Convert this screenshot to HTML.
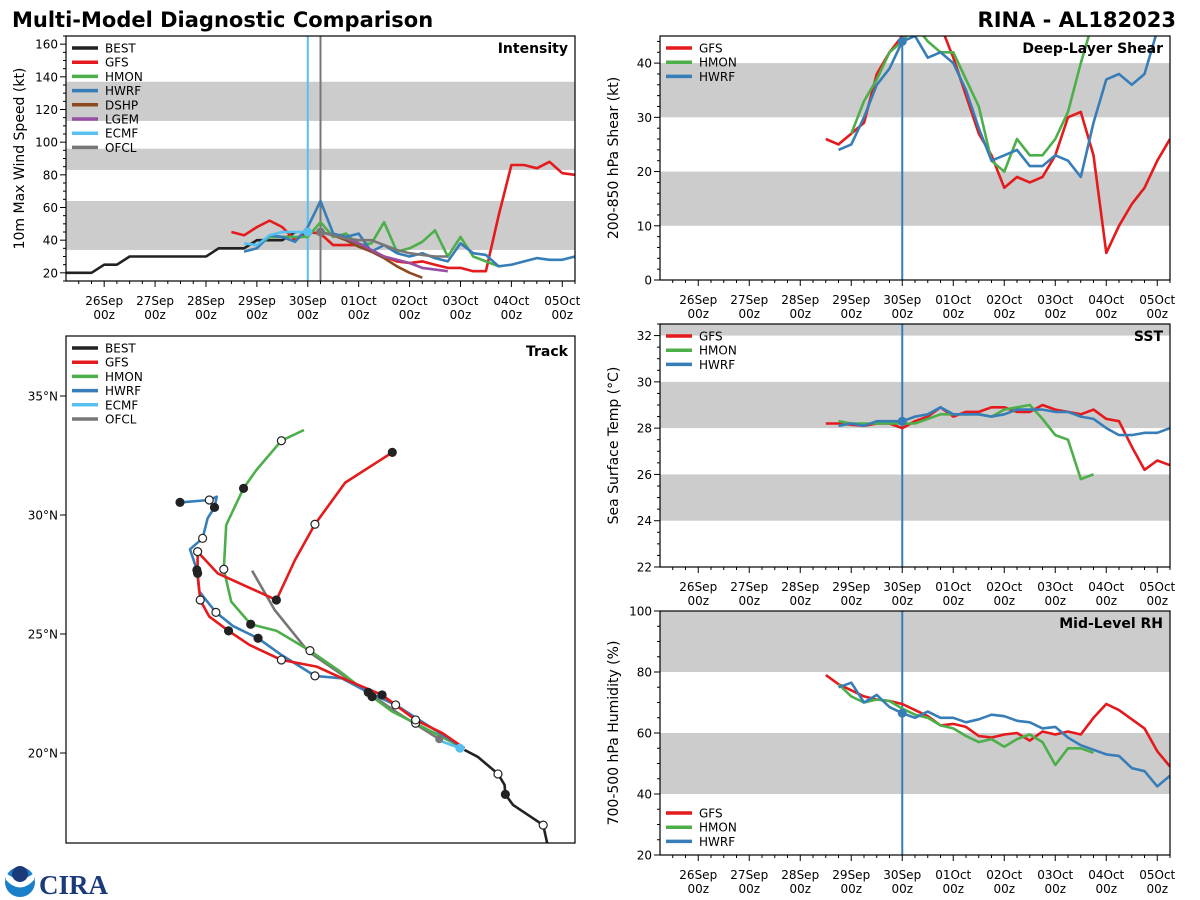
<!DOCTYPE html>
<html><head><meta charset="utf-8">
<style>
html,body{margin:0;padding:0;background:#fff;}
svg{display:block;font-family:"DejaVu Sans","Liberation Sans",sans-serif;}
</style></head>
<body>
<svg id="chart" width="1200" height="900" viewBox="0 0 1200 900" xmlns="http://www.w3.org/2000/svg">
<text x="12" y="27" font-size="21" font-weight="bold" fill="#000">Multi-Model Diagnostic Comparison</text>
<text x="1176" y="27" font-size="21" font-weight="bold" fill="#000" text-anchor="end">RINA - AL182023</text>
<g>
<circle cx="20" cy="882" r="15" fill="#1a7fc9"/>
<path d="M6,880 Q20,895 34,880 L34,873 Q20,885 6,873 Z" fill="#fff"/>
<circle cx="20" cy="874" r="8" fill="#1b3a7a"/>
<text x="39" y="894" font-size="27" font-weight="bold" fill="#1b3a7a" font-family="Liberation Serif, serif">CIRA</text>
</g>
</svg>
<script>
// ---------- data ----------
const xTickLabels = ["26Sep","27Sep","28Sep","29Sep","30Sep","01Oct","02Oct","03Oct","04Oct","05Oct"];
// times in days since 26Sep 00z; values at 6-hour steps starting at *Start
const bestIntStart = -0.75;
const bestIntVals = [20,20,20,25,25,30,30,30,30,30,30,30,35,35,35,40,40,40,45];
const gfsIntStart = 2.5;
const gfsIntVals = [45,43,48,52,48,40,45,44,37,37,37,34,30,27,26,27,25,23,23,21,21,55,86,86,84,88,81,80];
const hmonIntStart = 3.0;
const hmonIntVals = [36,42,42,42,42,51,42,44,37,38,51,33,35,39,46,30,42,30,27,24];
const hwrfIntStart = 2.75;
const hwrfIntVals = [33,35,43,42,39,48,64,44,42,44,33,37,32,30,32,29,27,38,32,31,24,25,27,29,28,28,30];
const dshpIntStart = 4.25;
const dshpIntVals = [45,43,40,36,33,29,24,20,17];
const lgemIntStart = 4.25;
const lgemIntVals = [45,43,41,38,34,30,28,26,23,22,21];
const ecmfIntStart = 2.75;
const ecmfIntVals = [38,37,43,45,45,45];
const ofclIntStart = 4.25;
const ofclIntVals = [45,43,41,40,40,37,34,32,31,30,30];

const gfsShearStart = 2.5;
const gfsShearVals = [26,25,27,29,38,42,45,47,48,47,41,34,27,23,17,19,18,19,23,30,31,23,5,10,14,17,22,26];
const hmonShearStart = 3.0;
const hmonShearVals = [27,33,37,42,44,47,44,42,42,37,32,22,20,26,23,23,26,31,40,48];
const hwrfShearStart = 2.75;
const hwrfShearVals = [24,25,30,36,39,44,45,41,42,40,35,28,22,23,24,21,21,23,22,19,29,37,38,36,38,46];

const gfsSstStart = 2.5;
const gfsSstVals = [28.2,28.2,28.15,28.1,28.2,28.2,28.0,28.3,28.5,28.9,28.5,28.7,28.7,28.9,28.9,28.7,28.7,29.0,28.8,28.7,28.6,28.8,28.4,28.3,27.2,26.2,26.6,26.4];
const hmonSstStart = 2.75;
const hmonSstVals = [28.3,28.2,28.2,28.2,28.2,28.2,28.2,28.4,28.6,28.6,28.6,28.6,28.5,28.8,28.9,29.0,28.4,27.7,27.5,25.8,26.0];
const hwrfSstStart = 2.75;
const hwrfSstVals = [28.1,28.2,28.1,28.3,28.3,28.3,28.5,28.6,28.9,28.6,28.6,28.6,28.5,28.6,28.8,28.8,28.8,28.7,28.7,28.5,28.4,28.0,27.7,27.7,27.8,27.8,28.0];

const gfsRhStart = 2.5;
const gfsRhVals = [79,76,74,72,71,70.5,69.5,67.5,65.5,62.5,63,62,59,58.5,59.5,60,57.5,60.5,59.5,60.5,59.5,65,69.5,67.5,64.5,61.5,54,49];
const hmonRhStart = 2.75;
const hmonRhVals = [76,72,70,71,70.5,68,66,65,62.5,61.5,59,57,58,55.5,58,59.5,57,49.5,55,55,53.5];
const hwrfRhStart = 2.75;
const hwrfRhVals = [75,76.5,70,72.5,68.5,66.5,65,67,65,65,63.5,64.5,66,65.5,64,63.5,61.5,62,58.5,56,54.5,53,52.5,48.5,47.5,42.5,46];

// track data: lon (deg E), lat (deg N)
const bestTrackLon = [-41.78,-41.95,-43.22,-43.54,-43.57,-43.85,-44.70,-45.26];
const bestTrackLat = [16.21,16.97,17.82,18.26,18.66,19.12,19.84,20.13];
const bestTrackMk  = ["","o","","f","","o","",""];
const gfsTrackLon = [-45.26,-46.18,-47.31,-48.72,-50.55,-51.47,-52.95,-54.29,-55.17,-55.98,-56.36,-56.47,-56.47,-55.63,-53.16,-52.38,-51.54,-50.27,-48.29];
const gfsTrackLat = [20.20,20.83,21.39,22.44,23.21,23.63,23.91,24.54,25.13,25.73,26.43,27.55,28.46,27.55,26.43,28.11,29.61,31.36,32.63];
const gfsTrackMk  = ["","","o","f","","","o","","f","","o","f","o","","f","","o","","f"];
const hwrfTrackLon = [-45.30,-48.15,-49.30,-50.41,-51.54,-52.95,-53.93,-54.99,-55.70,-56.40,-56.50,-56.79,-56.26,-56.05,-55.76,-55.67,-55.98,-57.21];
const hwrfTrackLat = [20.20,22.02,22.55,23.14,23.24,24.12,24.82,25.34,25.91,26.78,27.69,28.56,29.02,29.86,30.32,30.77,30.63,30.53];
const hwrfTrackMk  = ["","o","f","","o","","f","","o","","f","","o","","f","","o","f"];
const hmonTrackLon = [-45.30,-47.31,-48.29,-49.14,-49.85,-50.48,-51.75,-53.16,-54.24,-55.06,-55.37,-55.27,-54.54,-54.00,-52.95,-52.00];
const hmonTrackLat = [20.20,21.25,21.74,22.37,22.93,23.42,24.30,25.14,25.41,26.36,27.72,29.58,31.12,31.89,33.12,33.57];
const hmonTrackMk  = ["","o","","f","","","o","","f","","o","","f","","o",""];
const ecmfTrackLon = [-45.45,-46.30];
const ecmfTrackLat = [20.20,20.52];
const ofclTrackLon = [-46.32,-48.15,-49.98,-51.82,-53.23,-54.18];
const ofclTrackLat = [20.58,21.74,23.00,24.26,26.01,27.66];
const trackLatTicks = [20,25,30,35];

// ---------- drawing ----------
const NS="http://www.w3.org/2000/svg";
const svg=document.getElementById('chart');
const C={BEST:"#222222",GFS:"#e41a1c",HMON:"#4daf4a",HWRF:"#377eb8",DSHP:"#8c4a1e",LGEM:"#984ea3",ECMF:"#56c1f0",OFCL:"#777777"};
const X0=-0.75,X1=9.25;
function el(tag,attrs,parent){const e=document.createElementNS(NS,tag);for(const k in attrs)e.setAttribute(k,attrs[k]);(parent||svg).appendChild(e);return e;}
let clipId=0;

function panel(p){
  const g=el('g',{});
  
  
  const xs=t=>p.l+(t-X0)/(X1-X0)*(p.r-p.l);
  const ys=v=>p.b-(v-p.ymin)/(p.ymax-p.ymin)*(p.b-p.t);
  p.bands.forEach(bd=>{
    const y1=ys(Math.min(bd[1],p.ymax)),y0=ys(bd[0]);
    const rc=el('rect',{x:p.l,y:y1,width:p.r-p.l,height:y0-y1,fill:'#cccccc'},g);
    
    
  });
  // y ticks
  for(let v=p.ymin;v<=p.ymax+1e-6;v+=p.minor){
    const major=Math.abs(Math.round(v/p.major)*p.major-v)<1e-6;
    const y=ys(v);
    el('line',{x1:p.l,x2:p.l-(major?6:3),y1:y,y2:y,stroke:'#000','stroke-width':1},g);
    if(major){const tx=el('text',{x:p.l-8,y:y+4.5,'font-size':12,'text-anchor':'end'},g);tx.textContent=String(v);
      
      }
  }
  // x ticks
  for(let t=-0.5;t<=X1+1e-6;t+=0.25){
    const major=Math.abs(t-Math.round(t))<1e-6;
    const x=xs(t);
    el('line',{x1:x,x2:x,y1:p.b,y2:p.b+(major?6:3),stroke:'#000','stroke-width':1},g);
    if(major&&t>=0){
      const tx=el('text',{x:x,y:p.b+24,'font-size':12,'text-anchor':'middle'},g);
      tx.textContent=xTickLabels[Math.round(t)];
      
      
      const tz=el('text',{x:x,y:p.b+38,'font-size':12,'text-anchor':'middle'},g);
      tz.textContent='00z';
      
      
    }
  }
  const cid='clip'+(clipId++);
  const cp=el('clipPath',{id:cid},g);el('rect',{x:p.l,y:p.t,width:p.r-p.l,height:p.b-p.t},cp);
  const lg=el('g',{'clip-path':'url(#'+cid+')'},g);
  p.vlines.forEach(v=>{el('line',{x1:xs(v[0]),x2:xs(v[0]),y1:p.t,y2:p.b,stroke:v[1],'stroke-width':2},lg);});
  p.series.forEach(s=>{
    const pts=s.vals.map((v,i)=>xs(s.start+i*0.25).toFixed(1)+','+ys(v).toFixed(1)).join(' ');
    const pl=el('polyline',{points:pts,fill:'none',stroke:C[s.key],'stroke-width':2.6,'stroke-linejoin':'round'},lg);
    
    
    if(s.dotAt!==undefined){const i=s.dotAt;el('circle',{cx:xs(s.start+i*0.25),cy:ys(s.vals[i]),r:4.5,fill:C[s.key]},lg);}
  });
  el('rect',{x:p.l,y:p.t,width:p.r-p.l,height:p.b-p.t,fill:'none',stroke:'#000','stroke-width':1.2},g);
  const yl=el('text',{x:0,y:0,'font-size':14,'text-anchor':'middle',transform:`translate(${p.l-42},${(p.t+p.b)/2}) rotate(-90)`},g);
  yl.textContent=p.ylabel;
  
  
  const ti=el('text',{x:p.r-7,y:p.t+17,'font-size':14,'font-weight':'bold','text-anchor':'end'},g);
  ti.textContent=p.title;
  
  
  legend(g,p.l+6,p.legendY,p.legendKeys);
}
function legend(g,x,y,keys){
  keys.forEach((k,i)=>{
    const yy=y+i*14.2;
    const ln=el('line',{x1:x,x2:x+26,y1:yy,y2:yy,stroke:C[k],'stroke-width':3.5},g);
    
    
    const tx=el('text',{x:x+33,y:yy+4.5,'font-size':12},g);tx.textContent=k;
    
    
  });
}
panel({name:'intensity-panel',l:66,r:575,t:36,b:281,ymin:15,ymax:165,major:20,minor:5,bands:[[34,64],[83,96],[113,137]],
  ylabel:'10m Max Wind Speed (kt)',title:'Intensity',legendY:48,legendKeys:['BEST','GFS','HMON','HWRF','DSHP','LGEM','ECMF','OFCL'],
  vlines:[[4,'#56c1f0'],[4.25,'#777777']],
  series:[{key:'BEST',start:bestIntStart,vals:bestIntVals},{key:'GFS',start:gfsIntStart,vals:gfsIntVals},{key:'HMON',start:hmonIntStart,vals:hmonIntVals},
  {key:'HWRF',start:hwrfIntStart,vals:hwrfIntVals},{key:'DSHP',start:dshpIntStart,vals:dshpIntVals},{key:'LGEM',start:lgemIntStart,vals:lgemIntVals},
  {key:'ECMF',start:ecmfIntStart,vals:ecmfIntVals,dotAt:5},{key:'OFCL',start:ofclIntStart,vals:ofclIntVals,dotAt:0}]});
panel({name:'shear-panel',l:660,r:1170,t:36,b:280,ymin:0,ymax:45,major:10,minor:2,bands:[[10,20],[30,40]],
  ylabel:'200-850 hPa Shear (kt)',title:'Deep-Layer Shear',legendY:48,legendKeys:['GFS','HMON','HWRF'],vlines:[[4,'#377eb8']],
  series:[{key:'GFS',start:gfsShearStart,vals:gfsShearVals},{key:'HMON',start:hmonShearStart,vals:hmonShearVals},{key:'HWRF',start:hwrfShearStart,vals:hwrfShearVals,dotAt:5}]});
panel({name:'sst-panel',l:660,r:1170,t:324,b:567,ymin:22,ymax:32.5,major:2,minor:0.5,bands:[[24,26],[28,30],[32,34]],
  ylabel:'Sea Surface Temp (°C)',title:'SST',legendY:336,legendKeys:['GFS','HMON','HWRF'],vlines:[[4,'#377eb8']],
  series:[{key:'GFS',start:gfsSstStart,vals:gfsSstVals},{key:'HMON',start:hmonSstStart,vals:hmonSstVals},{key:'HWRF',start:hwrfSstStart,vals:hwrfSstVals,dotAt:5}]});
panel({name:'rh-panel',l:660,r:1170,t:611,b:855,ymin:20,ymax:100,major:20,minor:5,bands:[[40,60],[80,100]],
  ylabel:'700-500 hPa Humidity (%)',title:'Mid-Level RH',legendY:813,legendKeys:['GFS','HMON','HWRF'],vlines:[[4,'#377eb8']],
  series:[{key:'GFS',start:gfsRhStart,vals:gfsRhVals},{key:'HMON',start:hmonRhStart,vals:hmonRhVals},{key:'HWRF',start:hwrfRhStart,vals:hwrfRhVals,dotAt:5}]});

// track panel
(function(){
  const L=66,R=575,T=336,B=843,PX=23.8;
  const g=el('g',{});
  
  
  const xs=lon=>L+(lon+62)*PX, ys=lat=>753-(lat-20)*PX;
  trackLatTicks.forEach(lat=>{
    const y=ys(lat);
    el('line',{x1:L,x2:L-6,y1:y,y2:y,stroke:'#000'},g);
    const tx=el('text',{x:L-8,y:y+4.5,'font-size':12,'text-anchor':'end'},g);tx.textContent=lat+'°N';
    
    
  });
  const cp=el('clipPath',{id:'trackclip'},g);el('rect',{x:L,y:T,width:R-L,height:B-T},cp);
  const lg=el('g',{'clip-path':'url(#trackclip)'},g);
  const tracks=[['BEST',bestTrackLon,bestTrackLat,bestTrackMk],['OFCL',ofclTrackLon,ofclTrackLat,null],['HMON',hmonTrackLon,hmonTrackLat,hmonTrackMk],
    ['HWRF',hwrfTrackLon,hwrfTrackLat,hwrfTrackMk],['GFS',gfsTrackLon,gfsTrackLat,gfsTrackMk],['ECMF',ecmfTrackLon,ecmfTrackLat,null]];
  tracks.forEach(tr=>{
    const pts=tr[1].map((lo,i)=>xs(lo).toFixed(1)+','+ys(tr[2][i]).toFixed(1)).join(' ');
    const pl=el('polyline',{points:pts,fill:'none',stroke:C[tr[0]],'stroke-width':2.6,'stroke-linejoin':'round'},lg);
    
    
  });
  tracks.forEach(tr=>{
    if(!tr[3])return;
    tr[3].forEach((m,i)=>{
      if(!m)return;
      const c=el('circle',{cx:xs(tr[1][i]),cy:ys(tr[2][i]),r:4,fill:m==='o'?'#fff':'#222',stroke:'#222','stroke-width':1.2},lg);
      
      
    });
  });
  el('circle',{cx:xs(ecmfTrackLon[0]),cy:ys(ecmfTrackLat[0]),r:4.5,fill:C.ECMF},lg);
  el('circle',{cx:xs(ofclTrackLon[0]),cy:ys(ofclTrackLat[0]),r:4,fill:C.OFCL},lg);
  el('rect',{x:L,y:T,width:R-L,height:B-T,fill:'none',stroke:'#000','stroke-width':1.2},g);
  const ti=el('text',{x:R-7,y:T+20,'font-size':14,'font-weight':'bold','text-anchor':'end'},g);ti.textContent='Track';
  
  
  legend(g,L+6,348,['BEST','GFS','HMON','HWRF','ECMF','OFCL']);
})();
</script>
</body></html>
